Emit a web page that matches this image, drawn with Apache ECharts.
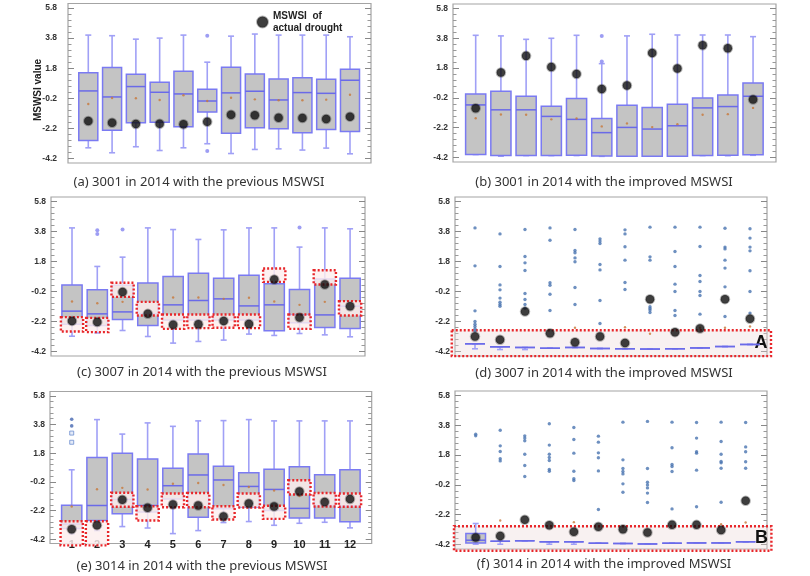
<!DOCTYPE html>
<html><head><meta charset="utf-8">
<script src="https://cdn.jsdelivr.net/npm/echarts@6/dist/echarts.min.js"></script>
<style>html,body{margin:0;padding:0;background:#fff}#c{width:810px;height:576px}</style>
</head><body><div id="c"></div><script>
// ---------- data ----------
const months = [1,2,3,4,5,6,7,8,9,10,11,12];
const yTicks = [-4.2,-2.2,-0.2,1.8,3.8,5.8];
const yMinorTicks = [-3.8,-3.4,-3.0,-2.6,-1.8,-1.4,-1.0,-0.6,0.2,0.6,1.0,1.4,2.2,2.6,3.0,3.4,4.2,4.6,5.0,5.4];

// (a) 3001 previous
const aHigh = [4.0,3.96,3.73,3.8,4.0,2.2,3.93,4.07,4.0,4.0,4.0,3.89];
const aQ3   = [1.49,1.84,1.4,0.87,1.6,0.4,1.87,1.42,1.09,1.16,1.07,1.73];
const aMed  = [0.29,-0.11,0.58,0.2,0.09,-0.38,0.16,0.27,-0.31,0.18,0.13,1.0];
const aQ1   = [-3.0,-2.33,-1.82,-1.8,-2.09,-1.11,-2.53,-2.16,-2.22,-2.49,-2.27,-2.4];
const aLow  = [-3.49,-3.82,-3.42,-3.67,-3.49,-3.22,-3.87,-3.6,-3.56,-3.64,-3.51,-3.89];
const aMean = [-0.58,-0.18,-0.2,-0.31,0.0,-0.38,-0.16,-0.27,-0.33,-0.33,-0.29,0.04];
const aDrought = [-1.71,-1.82,-1.91,-1.89,-1.93,-1.76,-1.29,-1.33,-1.49,-1.51,-1.58,-1.42];
const aOutliers = [[6,3.96],[6,-3.71]];

// (b) 3001 improved
const bHigh = [4.0,3.96,3.73,3.8,4.0,2.1,3.96,4.07,4.02,4.02,4.02,3.91];
const bQ3   = [0.07,0.24,-0.09,-0.76,-0.24,-1.58,-0.69,-0.84,-0.62,-0.2,0.0,0.8];
const bMed  = [-0.67,-1.0,-1.0,-1.44,-1.64,-2.53,-2.18,-2.29,-2.07,-0.87,-0.78,-0.09];
const bQ1   = [-4.0,-4.07,-4.07,-4.07,-4.04,-4.09,-4.11,-4.11,-4.11,-4.07,-4.04,-4.02];
const bLow  = [-4.0,-4.11,-4.07,-4.07,-4.07,-4.12,-4.11,-4.11,-4.11,-4.07,-4.08,-4.05];
const bMean = [-1.56,-1.31,-1.33,-1.64,-1.58,-2.11,-1.91,-2.16,-1.96,-1.33,-1.29,-0.87];
const bDrought = [-0.89,1.51,2.62,1.87,1.4,0.4,0.64,2.82,1.78,3.33,3.13,-0.31];
const bOutliers = [[6,3.96],[6,2.25]];

// (c) 3007 previous
const cHigh = [4.04,1.47,2.09,4.04,3.93,3.27,3.91,4.04,4.04,2.76,4.04,3.98];
const cQ3   = [0.24,-0.09,0.22,0.36,0.8,1.02,0.69,0.89,0.31,-0.07,0.64,0.69];
const cMed  = [-1.51,-1.69,-1.56,-1.69,-1.09,-0.8,-0.69,-1.16,-1.09,-1.76,-1.76,-1.18];
const cQ1   = [-2.38,-2.47,-2.07,-2.47,-2.1,-2.1,-2.1,-2.1,-2.82,-2.29,-2.6,-2.67];
const cLow  = [-3.18,-2.96,-2.8,-3.2,-3.64,-3.53,-3.44,-3.04,-3.13,-3.0,-3.09,-3.22];
const cMean = [-0.87,-0.98,-0.89,null,-0.6,-0.6,-0.69,-0.62,-0.87,-1.09,-0.89,null];
const cDrought = [-2.16,-2.24,-0.24,-1.69,-2.42,-2.38,-2.16,-2.36,0.6,-1.93,0.27,-1.18];
const cOutliers = [[2,3.89],[2,3.64],[3,3.93],[10,4.07]];
const cBoxTop = [-1.91,-1.96,0.38,-0.89,-1.73,-1.73,-1.73,-1.73,1.33,-1.73,1.22,-0.84];
const cBoxBottom = [-2.87,-2.91,-0.56,-1.8,-2.69,-2.64,-2.62,-2.64,0.44,-2.69,0.27,-1.8];

// (d) 3007 improved
const dBox  = [-3.69,-3.89,-3.93,-3.98,-3.93,-4.0,-4.02,-4.04,-4.02,-3.96,-3.87,-3.73];
const dLow  = [-4.02,-4.07,-4.07,-3.98,-3.93,-4.0,-4.02,-4.04,-4.02,-3.96,-3.87,-3.73];
const dMean = [null,null,null,null,-2.62,null,-2.58,-3.02,null,-2.62,-2.62,-2.53];
const dDrought = [-3.2,-3.42,-1.53,-2.98,-3.58,-3.2,-3.64,-0.71,-2.91,-2.67,-0.71,-2.02];
const dOutliers = [
  [4.04,1.51,-1.49,-2.2,-2.38,-2.53,-2.69,-2.84],
  [3.64,1.47,0.24,-0.09,-0.64,-0.91,-1.07,-1.18],
  [3.93,2.13,1.71,1.2,-0.33,-0.73,-1.07,-1.31],
  [4.04,3.22,0.38,0.22,-0.38,-1.47],
  [3.93,2.53,2.38,2.04,1.78,0.07,-1.07],
  [3.31,3.16,3.0,1.6,1.24,-0.8,-2.33],
  [3.91,3.64,2.78,1.89,0.4,-0.07],
  [4.09,2.11,1.89,-1.22,-1.33,-1.44,-1.6],
  [4.09,2.47,1.47,0.29,-0.2,-1.47,-1.8],
  [4.09,2.8,0.87,0.47,-0.2,-0.47,-1.71],
  [4.02,2.76,2.64,1.89,1.36,0.11,-1.87],
  [3.98,3.36,2.76,2.51,1.18,-0.2,-1.64]
];

// (e) 3014 previous
const eHigh = [0.64,4.14,3.13,3.91,3.67,4.05,4.07,4.14,4.05,4.05,4.05,4.05];
const eQ3   = [-1.83,1.5,1.8,1.4,0.75,1.75,0.89,0.44,0.68,0.85,0.3,0.65];
const eMed  = [-3.15,-1.85,-1.43,-1.85,-0.47,0.28,-0.07,-0.52,-0.73,-2.05,-1.85,-1.88];
const eQ1   = [-3.46,-2.9,-2.43,-2.3,-1.4,-2.67,-2.08,-1.97,-2.2,-2.72,-2.72,-2.98];
const eLow  = [-3.83,-3.6,-3.32,-3.42,-3.81,-3.6,-3.04,-2.97,-3.23,-3.09,-3.02,-3.41];
const eMean = [-1.92,-0.72,-0.62,-0.73,-0.33,-0.28,-0.42,-0.56,-0.8,-1.19,-1.5,null];
const eDrought = [-3.5,-3.22,-1.45,-2.01,-1.78,-1.85,-2.62,-1.71,-1.92,-0.87,-1.6,-1.4];
const eOutliers = [[1,4.17],[1,3.7]];
const eOutliersHollow = [[1,3.2],[1,2.56]];
const eBoxTop = [-2.95,-2.95,-0.96,-1.9,-1.01,-0.98,-1.9,-1.01,-1.87,-0.09,-0.98,-1.01];
const eBoxBottom = [-4.63,-4.63,-1.94,-2.9,-1.97,-1.97,-2.83,-1.99,-2.78,-1.08,-1.92,-1.94];

// (f) 3014 improved
const fHigh = [-2.79,-3.98,-3.95,-4.02,-4.02,-4.11,-4.13,-4.16,-4.11,-4.09,-4.09,-4.02];
const fQ3   = [-3.46,-3.98,-3.95,-4.02,-4.02,-4.11,-4.13,-4.16,-4.11,-4.09,-4.09,-4.02];
const fMed  = [-3.91,-3.98,-3.95,-4.02,-4.02,-4.11,-4.13,-4.16,-4.11,-4.09,-4.09,-4.02];
const fQ1   = [-4.09,-3.98,-3.95,-4.02,-4.02,-4.11,-4.13,-4.16,-4.11,-4.09,-4.09,-4.02];
const fLow  = [-4.18,-4.18,-3.95,-4.18,-4.18,-4.11,-4.13,-4.16,-4.11,-4.09,-4.09,-4.02];
const fMean = [null,-2.59,null,null,-2.7,null,null,null,null,null,-2.84,-2.72];
const fDrought = [-3.73,-3.62,-2.54,-2.9,-3.35,-3.01,-3.17,-3.39,-2.88,-2.88,-3.22,-1.27];
const fOutliers = [
  [3.2,3.09],
  [3.47,2.42,2.04,1.55,1.41],
  [3.09,2.94,2.76,1.86,1.1,0.36],
  [3.9,2.47,1.86,1.64,1.44,0.83,0.72],
  [3.65,2.85,1.93,0.72,0.21,0.1],
  [3.07,2.67,1.95,1.62,0.74,-1.85],
  [4.01,1.48,0.9,0.7,0.54,-0.13,-0.69],
  [4.06,0.9,-0.02,-0.2,-0.4,-0.75,-1.38],
  [4.01,2.29,1.17,1.03,0.7,-1.81],
  [3.99,2.94,2.02,1.93,0.79,-1.67],
  [4.01,2.71,1.86,1.37,1.28,0.92,-1.36],
  [3.99,2.35,2.02,1.35,0.92]
];

const titles = [
  '(a) 3001 in 2014 with the previous MSWSI',
  '(b) 3001 in 2014 with the improved MSWSI',
  '(c) 3007 in 2014 with the previous MSWSI',
  '(d) 3007 in 2014 with the improved MSWSI',
  '(e) 3014 in 2014 with the previous MSWSI',
  '(f) 3014 in 2014 with the improved MSWSI'
];
const zoneLabels = ['A','B'];
const legendName = 'MSWSI of actual drought';

// ---------- layout ----------
const layout = [
  {left:68,  top:3.5, width:303, height:159.5, xMin:0.147, xMax:12.883, labelGap:11, tx:199, ty:182},
  {left:453, top:4,   width:323, height:158,   xMin:0.10,  xMax:12.91,  labelGap:5,  tx:604, ty:182},
  {left:51,  top:197, width:314, height:159,   xMin:0.169, xMax:12.59,  labelGap:5,  tx:202, ty:372},
  {left:455, top:197, width:312, height:159,   xMin:0.20,  xMax:12.68,  labelGap:5,  tx:604, ty:373},
  {left:50,  top:391.5, width:321.7, height:152, xMin:0.142, xMax:12.858, labelGap:5, tx:202, ty:566},
  {left:455, top:391, width:312, height:158,   xMin:0.157, xMax:12.87,  labelGap:5,  tx:604, ty:564}
];
const Y_MIN = -4.5, Y_MAX = 6.1;

// ---------- helpers ----------
const boxData = (lo,q1,md,q3,hi) => months.map((m,k)=>[m, lo[k], q1[k], md[k], q3[k], hi[k]]);
const pts = (arr) => months.map((m,k)=>[m, arr[k]]).filter(p=>p[1]!==null);
const colPts = (cols) => { const r=[]; cols.forEach((c,k)=>c.forEach(v=>r.push([months[k], v]))); return r; };
const rectData = (top,bot) => months.map((m,k)=>[m, top[k], bot[k]]);

function boxItem(params, api){
  const x = api.value(0);
  const pl = api.coord([x, api.value(1)]), pq1 = api.coord([x, api.value(2)]),
        pm = api.coord([x, api.value(3)]), pq3 = api.coord([x, api.value(4)]),
        ph = api.coord([x, api.value(5)]);
  const bw = api.size([1,0])[0]*0.8, cw = 6, cx = pm[0];
  const ws = {stroke:'#a0a0f6', lineWidth:1.6};
  return {type:'group', children:[
    {type:'line', shape:{x1:cx,y1:ph[1],x2:cx,y2:pq3[1]}, style:ws},
    {type:'line', shape:{x1:cx,y1:pq1[1],x2:cx,y2:pl[1]}, style:ws},
    {type:'line', shape:{x1:cx-cw/2,y1:ph[1],x2:cx+cw/2,y2:ph[1]}, style:ws},
    {type:'line', shape:{x1:cx-cw/2,y1:pl[1],x2:cx+cw/2,y2:pl[1]}, style:ws},
    {type:'rect', shape:{x:cx-bw/2,y:pq3[1],width:bw,height:pq1[1]-pq3[1]}, style:{fill:'#c4c4c4', stroke:'#7a7af2', lineWidth:1.5}},
    {type:'line', shape:{x1:cx-bw/2,y1:pm[1],x2:cx+bw/2,y2:pm[1]}, style:{stroke:'#6a6ae8', lineWidth:1.5}}
  ]};
}
function markRectItem(params, api){
  const x = api.value(0);
  const p1 = api.coord([x-0.44, api.value(1)]), p2 = api.coord([x+0.44, api.value(2)]);
  return {type:'rect', shape:{x:p1[0], y:p1[1], width:p2[0]-p1[0], height:p2[1]-p1[1]},
    style:{fill:'rgba(252,238,238,0.82)', stroke:'#e8262a', lineWidth:2.4, lineDash:[2,2]}};
}
const zoneSeriesIdx = [];
function zoneItem(params, api){
  const p1 = api.coord([api.value(0), api.value(2)]), p2 = api.coord([api.value(1), api.value(3)]);
  return {type:'group', children:[
    {type:'rect', shape:{x:p1[0], y:p1[1], width:p2[0]-p1[0], height:p2[1]-p1[1]},
     style:{fill:'rgba(236,214,214,0.35)', stroke:'#e8262a', lineWidth:2.4, lineDash:[2,2]}},
    {type:'text', x:p2[0]-10, y:(p1[1]+p2[1])/2, style:{text:zoneLabels[params.seriesIndex===zoneSeriesIdx[0]?0:1],
      font:'bold 18px "Liberation Sans"', fill:'#111', align:'center', verticalAlign:'middle'}}
  ]};
}

// ---------- build ----------
const grids=[], xAxes=[], yAxes=[], series=[], graphics=[];
const panelData = [
  {box:boxData(aLow,aQ1,aMed,aQ3,aHigh), mean:pts(aMean), drought:pts(aDrought), out:aOutliers, outColor:'#8484f0', outSize:4},
  {box:boxData(bLow,bQ1,bMed,bQ3,bHigh), mean:pts(bMean), drought:pts(bDrought), out:bOutliers, outColor:'#8484f0', outSize:4},
  {box:boxData(cLow,cQ1,cMed,cQ3,cHigh), mean:pts(cMean), drought:pts(cDrought), out:cOutliers, outColor:'#8484f0', outSize:4, rects:rectData(cBoxTop,cBoxBottom)},
  {box:boxData(dLow,dBox,dBox,dBox,dBox), mean:pts(dMean), drought:pts(dDrought), out:colPts(dOutliers), outColor:'#4a74b0', outSize:3.4, zone:[0.07,12.84,-2.78,-4.51]},
  {box:boxData(eLow,eQ1,eMed,eQ3,eHigh), mean:pts(eMean), drought:pts(eDrought), out:eOutliers, outColor:'#4566b0', outSize:3.6, hollow:eOutliersHollow, rects:rectData(eBoxTop,eBoxBottom)},
  {box:boxData(fLow,fQ1,fMed,fQ3,fHigh), mean:pts(fMean), drought:pts(fDrought), out:colPts(fOutliers), outColor:'#4a74b0', outSize:3.4, zone:[0.115,13.05,-2.97,-4.62]}
];
const font = '"Liberation Sans", Arial, sans-serif';
layout.forEach((L,i)=>{
  grids.push({left:L.left, top:L.top, width:L.width, height:L.height, show:true, borderColor:'#a4a4a4', borderWidth:1.2, backgroundColor:'transparent'});
  xAxes.push({type:'value', gridIndex:i, min:L.xMin, max:L.xMax, splitLine:{show:false},
    axisLine:{show:false}, axisTick:{show:false},
    axisLabel:{show:i===4, customValues:months, fontSize:11, fontWeight:'bold', color:'#222', fontFamily:font, margin:-4}});
  const base = {type:'value', gridIndex:i, min:Y_MIN, max:Y_MAX, splitLine:{show:false}, axisLine:{show:false}};
  yAxes.push(Object.assign({}, base, {position:'left',
    axisTick:{show:true, inside:true, length:6, customValues:yTicks, lineStyle:{color:'#888'}},
    axisLabel:{customValues:yTicks, formatter:v=>v.toFixed(1), fontSize:8.5, fontWeight:'bold', color:'#333', fontFamily:font, margin:L.labelGap}}));
  yAxes.push(Object.assign({}, base, {position:'left', axisLabel:{show:false},
    axisTick:{show:true, inside:true, length:3.5, customValues:yMinorTicks, lineStyle:{color:'#999'}}}));
  yAxes.push(Object.assign({}, base, {position:'right', axisLabel:{show:false},
    axisTick:{show:true, inside:true, length:6, customValues:yTicks, lineStyle:{color:'#888'}}}));
  yAxes.push(Object.assign({}, base, {position:'right', axisLabel:{show:false},
    axisTick:{show:true, inside:true, length:3.5, customValues:yMinorTicks, lineStyle:{color:'#999'}}}));
  const yi = 4*i;
  const P = panelData[i];
  if (P.zone){
    zoneSeriesIdx.push(series.length);
    series.push({type:'custom', xAxisIndex:i, yAxisIndex:yi, renderItem:zoneItem, data:[P.zone], z:1, silent:true, clip:false});
  }
  series.push({type:'custom', xAxisIndex:i, yAxisIndex:yi, renderItem:boxItem, data:P.box, z:2, silent:true});
  series.push({type:'scatter', xAxisIndex:i, yAxisIndex:yi, data:P.out, symbol:'circle', symbolSize:P.outSize, itemStyle:{color:P.outColor}, z:3, silent:true});
  if (P.hollow) series.push({type:'scatter', xAxisIndex:i, yAxisIndex:yi, data:P.hollow, symbol:'rect', symbolSize:4, itemStyle:{color:'#dfe6f6', borderColor:'#6d8ed0', borderWidth:1}, z:3, silent:true});
  series.push({type:'scatter', xAxisIndex:i, yAxisIndex:yi, data:P.mean, symbol:'circle', symbolSize:2.4, itemStyle:{color:'#c8783a'}, z:3, silent:true});
  if (P.rects) series.push({type:'custom', xAxisIndex:i, yAxisIndex:yi, renderItem:markRectItem, data:P.rects, z:4, silent:true, clip:false});
  series.push({type:'scatter', name: i===0 ? legendName : 'drought'+i, xAxisIndex:i, yAxisIndex:yi, data:P.drought, symbol:'circle', symbolSize:8.5,
    itemStyle:{color:'#0e0e0e', borderColor:'rgba(30,30,30,0.4)', borderWidth:2}, z:6, silent:true});
  graphics.push({type:'text', x:L.tx, y:L.ty, style:{text:titles[i], font:'13px "Noto Sans", sans-serif', fill:'#333', align:'center', verticalAlign:'middle'}});
});
graphics.push({type:'text', x:38, y:90, rotation:Math.PI/2, style:{text:'MSWSI value', font:'bold 10px "Liberation Sans", Arial', fill:'#222', align:'center', verticalAlign:'middle'}});

const chart = echarts.init(document.getElementById('c'), null, {renderer:'canvas'});
chart.setOption({
  animation:false,
  backgroundColor:'#fff',
  grid:grids, xAxis:xAxes, yAxis:yAxes, series:series, graphic:graphics,
  legend:{data:[{name:legendName, icon:'circle'}], left:251, top:5, itemWidth:11, itemHeight:11, itemGap:5,
    formatter:()=>'MSWSI  of\nactual drought', selectedMode:false,
    textStyle:{fontSize:10, fontWeight:'bold', color:'#222', lineHeight:12, fontFamily:font}}
});
</script></body></html>
